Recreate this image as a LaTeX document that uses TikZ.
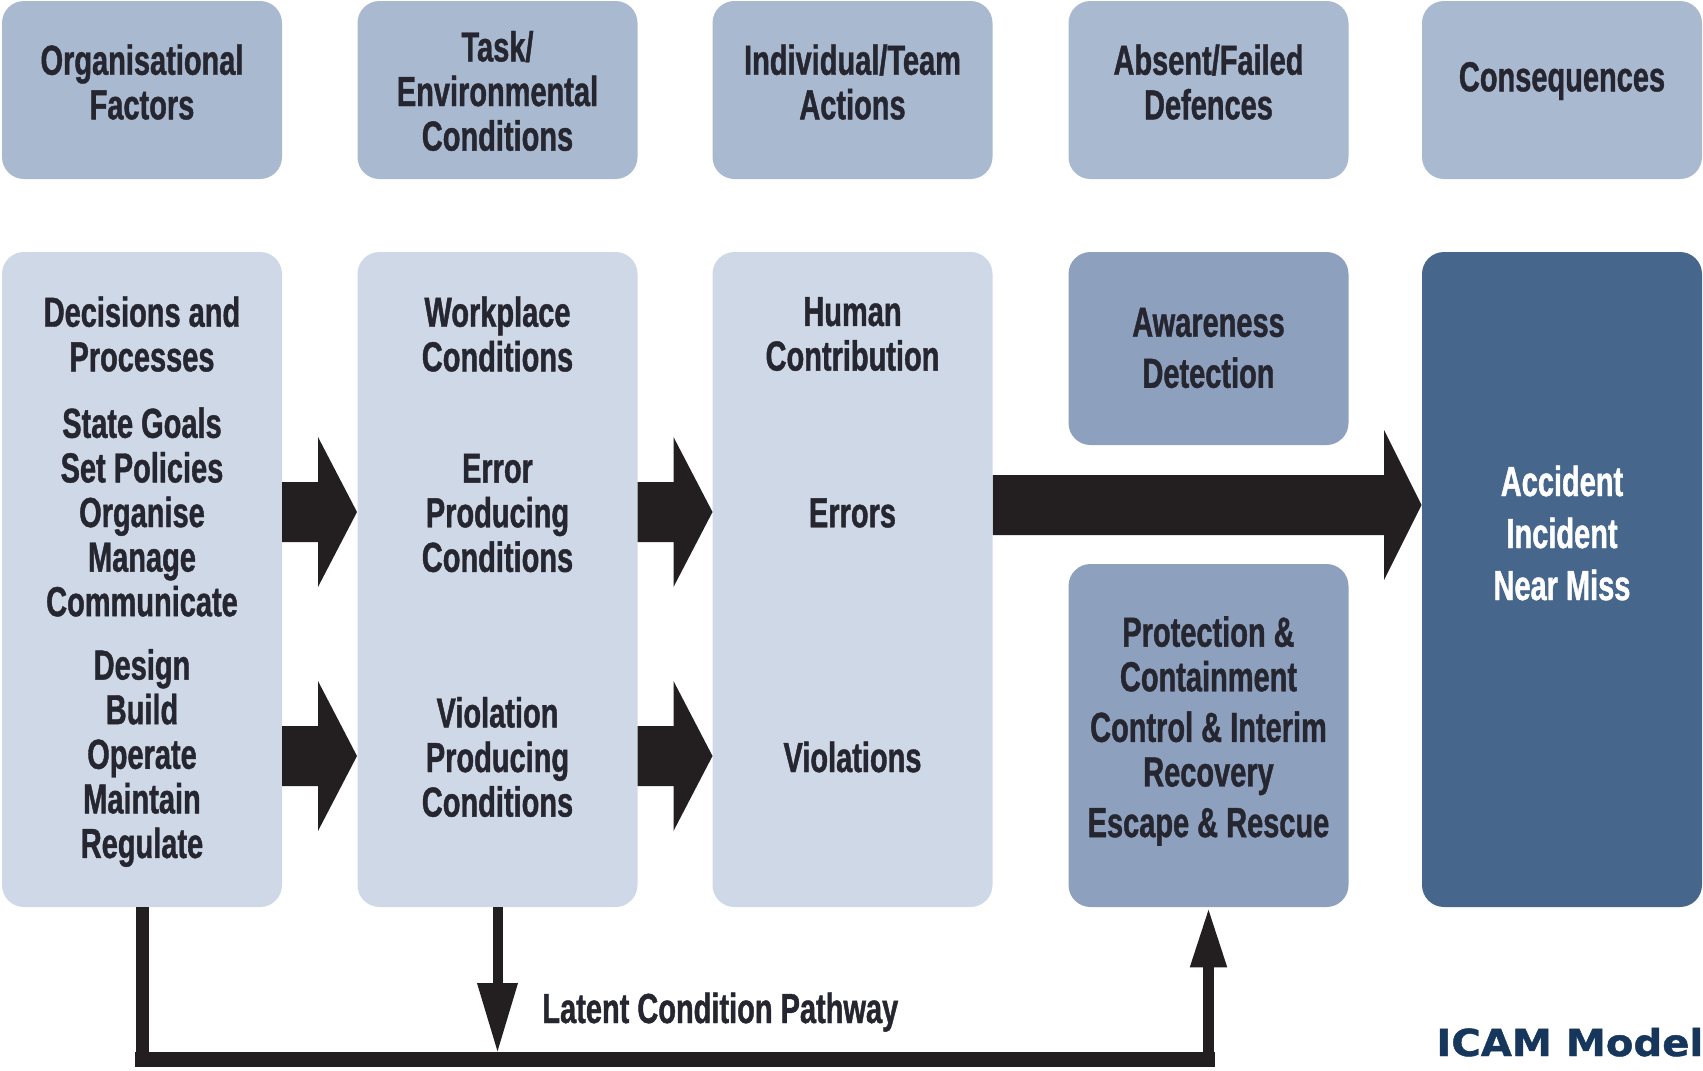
\documentclass[tikz,border=0pt]{standalone}
\usepackage{fontspec}
\usetikzlibrary{arrows.meta}
\newfontfamily\condf{Liberation Sans}[FakeStretch=0.69, FakeBold=1.0]
\newfontfamily\icamf{DejaVu Sans}[FakeStretch=1.08, FakeBold=1.2]
\definecolor{hdrc}{HTML}{A9B9D0}
\definecolor{lightc}{HTML}{CED8E6}
\definecolor{midc}{HTML}{8DA1BF}
\definecolor{darkc}{HTML}{46668C}
\definecolor{txtc}{HTML}{262630}
\definecolor{arrc}{HTML}{231F20}
\definecolor{icamc}{HTML}{16365C}
\begin{document}
\begin{tikzpicture}[x=0.5pt,y=-0.5pt,
  box/.style={rectangle, rounded corners=11pt, inner sep=0pt, draw=none, minimum width=140pt},
  hdr/.style={box, fill=hdrc, minimum height=89pt},
  col/.style={box, fill=lightc, minimum height=327.5pt},
  defbox/.style={box, fill=midc},
  conbox/.style={box, fill=darkc, minimum height=327.5pt},
  txt/.style={inner sep=0pt, align=center, text=txtc, font=\condf\bfseries\fontsize{21}{22.3}\selectfont},
  wtxt/.style={txt, text=white},
  blk/.style={fill=arrc},
  path/.style={draw=arrc, line cap=butt}
]
\useasboundingbox (0,0) rectangle (1703,1071);

% header boxes
\node[hdr] (h1) at (142,90) {};
\node[hdr] (h2) at (497.5,90) {};
\node[hdr] (h3) at (852.5,90) {};
\node[hdr] (h4) at (1208.5,90) {};
\node[hdr] (h5) at (1562,90) {};
\node[txt] (t1) at (142,82) {Organisational\\Factors};
\node[txt] (t2) at (497.5,91) {Task/\\Environmental\\Conditions};
\node[txt] (t3) at (852.5,82) {Individual/Team\\Actions};
\node[txt] (t4) at (1208.5,82) {Absent/Failed\\Defences};
\node[txt] (t5) at (1562,81) {Consequences};

% main boxes
\node[col] (c1) at (142,579.5) {};
\node[col] (c2) at (497.5,579.5) {};
\node[col] (c3) at (852.5,579.5) {};
\node[defbox, minimum height=96.5pt] (aw) at (1208.5,348.5) {};
\node[defbox, minimum height=171.5pt] (pr) at (1208.5,735.5) {};
\node[conbox] (cs) at (1562,579.5) {};

% column 1 text
\node[txt] (c1a) at (142,334) {Decisions and\\Processes};
\node[txt] (c1b) at (142,512) {State Goals\\Set Policies\\Organise\\Manage\\Communicate};
\node[txt] (c1c) at (142,758) {Design\\Build\\Operate\\Maintain\\Regulate};
% column 2 text
\node[txt] (c2a) at (497.5,334) {Workplace\\Conditions};
\node[txt] (c2b) at (497.5,513) {Error\\Producing\\Conditions};
\node[txt] (c2c) at (497.5,757) {Violation\\Producing\\Conditions};
% column 3 text
\node[txt] (c3a) at (852.5,334) {Human\\Contribution};
\node[txt] (c3b) at (852.5,513) {Errors};
\node[txt] (c3c) at (852.5,757) {Violations};
% column 4 text
\node[txt, font=\condf\bfseries\fontsize{21}{25.5}\selectfont] (awt) at (1208.5,348) {Awareness\\Detection};
\node[txt] (prt) at (1208.5,731) {Protection \&\\Containment\\[3pt]Control \& Interim\\Recovery\\[3pt]Escape \& Rescue};
% column 5 text
\node[wtxt, font=\condf\bfseries\fontsize{21}{26}\selectfont] (cst) at (1562,533) {Accident\\Incident\\Near Miss};

% block arrows
\foreach \xa/\yc in {282/512, 282/756, 637.5/512, 637.5/756}
  \fill[blk] (\xa,\yc-30) -- (\xa+36,\yc-30) -- (\xa+36,\yc-75) -- (\xa+75,\yc)
    -- (\xa+36,\yc+75) -- (\xa+36,\yc+30) -- (\xa,\yc+30) -- cycle;
\fill[blk] (c3.east |- 0,475) -- (1384,475) -- (1384,430) -- (cs.west |- 0,505)
  -- (1384,580) -- (1384,535) -- (c3.east |- 0,535) -- cycle;

% latent condition pathway
\coordinate (bl) at (135,1059.5);
\coordinate (br) at (1215,1059.5);
\draw[path, line width=6.5pt] (c1.south) -- (c1.south |- bl);
\draw[path, line width=7.5pt] (bl) -- (br);
\draw[path, line width=5pt, -{Triangle[length=35pt 0, width=19pt 0]}]
  (c2.south) -- (c2.south |- 0,1053);
\draw[path, line width=5.5pt, -{Triangle[length=30pt 0, width=17pt 0]}]
  (pr.south |- 0,1060) -- (pr.south);
\node[txt, anchor=base west] (lcp) at (542,1023) {Latent Condition Pathway};

\node[inner sep=0pt, anchor=base west, text=icamc, font=\icamf\bfseries\fontsize{18.6}{19}\selectfont] (icam) at (1436,1056) {ICAM Model};
\end{tikzpicture}
\end{document}
